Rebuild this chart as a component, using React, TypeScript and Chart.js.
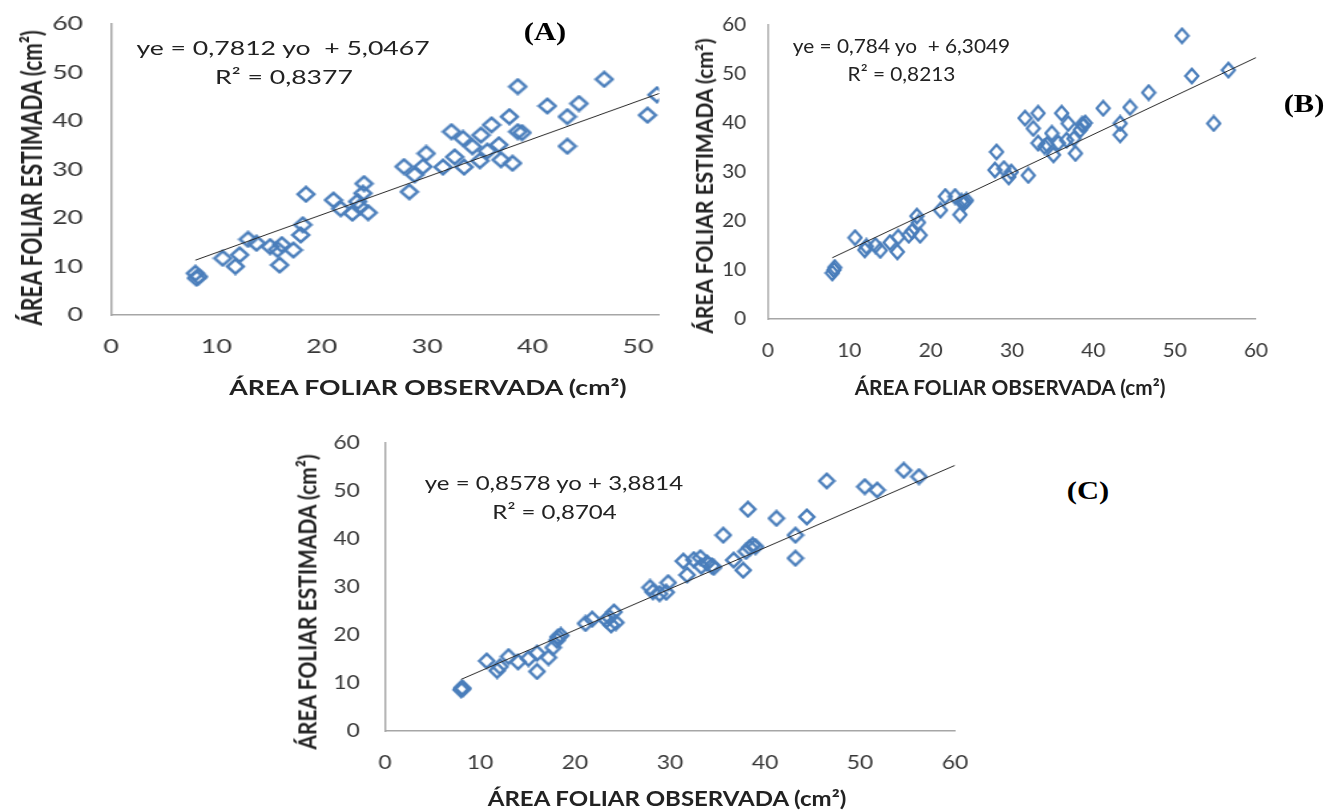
import React, { useEffect, useRef } from 'react';
import { Chart, registerables } from 'chart.js';

Chart.register(...registerables);

// ---------- DATA ----------
const obsA = [8.0, 8.1, 8.3, 10.6, 11.8, 12.2, 13.0, 13.8, 15.1, 15.8, 16.0, 16.2, 17.3, 18.0, 18.2, 18.5, 21.1, 21.8, 22.9, 23.4, 23.6, 23.9, 24.0, 24.4, 27.8, 28.3, 28.8, 29.6, 29.9, 31.5, 32.3, 32.6, 33.4, 33.5, 34.3, 35.0, 35.1, 35.7, 36.1, 36.8, 37.0, 37.8, 38.1, 38.6, 38.6, 39.0, 41.4, 43.3, 43.3, 44.4, 46.8, 50.9, 51.8];
const estA = [8.6, 7.6, 7.9, 11.7, 10.0, 12.4, 15.6, 14.8, 14.1, 13.5, 10.3, 14.5, 13.4, 16.5, 18.6, 24.9, 23.7, 21.9, 21.0, 23.4, 22.3, 25.1, 27.1, 21.1, 30.6, 25.4, 28.9, 30.6, 33.3, 30.5, 37.8, 32.6, 36.4, 30.5, 34.7, 31.8, 37.1, 33.8, 39.2, 35.1, 32.0, 40.9, 31.3, 47.1, 37.8, 37.6, 43.1, 40.9, 34.8, 43.6, 48.6, 41.2, 45.4];

const obsB = [7.9, 8.1, 8.2, 10.7, 11.9, 12.1, 13.2, 13.8, 15.0, 15.9, 16.0, 17.3, 17.7, 18.3, 18.5, 18.7, 21.2, 21.8, 23.0, 23.6, 23.8, 24.0, 24.2, 24.4, 27.9, 28.1, 29.0, 29.6, 29.9, 31.6, 32.0, 32.6, 33.2, 33.2, 34.0, 34.3, 34.9, 35.1, 35.7, 36.1, 36.7, 36.9, 37.6, 37.8, 38.4, 38.6, 38.8, 39.0, 41.2, 43.3, 43.3, 44.5, 46.8, 50.9, 52.1, 54.8, 56.6];
const estB = [9.4, 10.0, 10.5, 16.6, 14.1, 14.8, 15.0, 14.0, 15.6, 13.7, 16.7, 17.1, 17.9, 21.0, 19.7, 17.1, 22.2, 25.0, 25.0, 21.3, 24.0, 23.6, 23.9, 24.2, 30.4, 34.1, 30.7, 29.0, 30.0, 41.0, 29.3, 38.9, 42.0, 35.9, 35.2, 35.6, 37.9, 33.5, 35.9, 42.0, 36.5, 39.9, 36.8, 33.8, 38.6, 39.7, 39.5, 40.0, 43.0, 39.9, 37.6, 43.2, 46.2, 57.8, 49.6, 39.9, 50.8];

const obsC = [8.0, 8.1, 8.2, 10.7, 11.8, 12.1, 13.0, 14.0, 15.1, 16.0, 16.0, 17.2, 17.7, 18.1, 18.2, 18.5, 21.1, 21.8, 23.3, 23.6, 23.8, 24.1, 24.3, 27.9, 28.2, 28.9, 29.6, 29.8, 31.4, 31.8, 32.5, 33.2, 33.3, 33.9, 34.4, 34.6, 35.6, 36.7, 37.7, 38.0, 38.2, 38.4, 38.7, 39.0, 41.2, 43.2, 43.2, 44.4, 46.5, 50.5, 51.8, 54.6, 56.2];
const estC = [8.6, 9.0, 8.8, 14.6, 12.6, 13.4, 15.5, 14.4, 15.1, 12.4, 16.2, 15.3, 17.4, 18.9, 19.6, 19.9, 22.4, 23.3, 23.1, 23.7, 22.1, 24.8, 22.6, 29.9, 29.0, 28.6, 28.9, 30.9, 35.4, 32.5, 35.7, 36.1, 34.3, 35.0, 34.4, 34.1, 40.8, 35.6, 33.5, 37.4, 46.2, 38.2, 38.7, 38.4, 44.3, 40.8, 36.0, 44.6, 52.1, 50.9, 50.2, 54.3, 53.0];

const slopes = [0.7812, 0.784, 0.8578];
const intercepts = [5.0467, 6.3049, 3.8814];
const equations = ['ye = 0,7812 yo  + 5,0467', 'ye = 0,784 yo  + 6,3049', 'ye = 0,8578 yo + 3,8814'];
const r2Labels = ['R² = 0,8377', 'R² = 0,8213', 'R² = 0,8704'];
const panelLabels = ['(A)', '(B)', '(C)'];
const xMaxes = [52, 60, 60];
const tickStep = 10;
const xTitle = 'ÁREA FOLIAR OBSERVADA (cm²)';
const yTitle = 'ÁREA FOLIAR ESTIMADA (cm²)';

// ---------- STYLE / LAYOUT ----------
const BLUE = '#4a7ebb';
const AXIS = '#a6a6a6';
const TICK = '#383838';
const TEXT = '#222222';

type Panel = {
  ox: number; oy: number; sx: number; w: number; h: number;
  L: number; R: number; T: number; B: number; tickSize: number;
  eq: [number, number]; r2: [number, number]; xt: [number, number]; yt: [number, number];
  lab: [number, number];
};

const panels: Panel[] = [
  { ox: 0, oy: 0, sx: 1.33, w: 512, h: 400, L: 111, R: 659, T: 24, B: 315, tickSize: 20,
    eq: [283, 47], r2: [284, 76], xt: [428, 387], yt: [30, 178], lab: [545, 31] },
  { ox: 680, oy: 0, sx: 1.04, w: 621, h: 400, L: 768, R: 1256, T: 25, B: 319, tickSize: 20,
    eq: [901.5, 45], r2: [901.5, 73], xt: [1010, 387], yt: [704, 186], lab: [1304, 103] },
  { ox: 280, oy: 400, sx: 1.2, w: 583, h: 412, L: 385, R: 955, T: 443, B: 731, tickSize: 19,
    eq: [554, 482], r2: [554.5, 511], xt: [667, 798], yt: [306, 602], lab: [1088, 490] },
];

function makeDiamond(w: number, h: number, lw: number, color: string) {
  const c = document.createElement('canvas');
  c.width = w;
  c.height = h;
  const ctx = c.getContext('2d')!;
  const i = lw * 0.75;
  ctx.strokeStyle = color;
  ctx.lineWidth = lw;
  ctx.beginPath();
  ctx.moveTo(w / 2, i);
  ctx.lineTo(w - i, h / 2);
  ctx.lineTo(w / 2, h - i);
  ctx.lineTo(i, h / 2);
  ctx.closePath();
  ctx.stroke();
  return c;
}

function zeroPad(s: any) {
  s.paddingTop = 0;
  s.paddingBottom = 0;
  s.paddingLeft = 0;
  s.paddingRight = 0;
}

function ScatterPanel({ idx, obs, est }: { idx: number; obs: number[]; est: number[] }) {
  const ref = useRef<HTMLCanvasElement | null>(null);
  const p = panels[idx];
  const u = (X: number) => (X - p.ox) / p.sx;
  const v = (Y: number) => Y - p.oy;

  useEffect(() => {
    if (!ref.current) return;
    const l = u(p.L);
    const r = u(p.R);
    const t = v(p.T);
    const b = v(p.B);
    const xMax = xMaxes[idx];
    const pts = obs.map((x, i) => ({ x, y: est[i] }));
    const x0 = Math.min(...obs);
    const trend = [x0, 60].map((x) => ({ x, y: slopes[idx] * x + intercepts[idx] }));
    const diamond = makeDiamond(16, 18, 2.5, BLUE);
    const tickFont = { family: 'Lato', size: p.tickSize };
    const chart = new Chart(ref.current, {
      type: 'scatter',
      data: {
        datasets: [
          {
            type: 'line',
            data: trend,
            borderColor: '#2a2a2a',
            borderWidth: 1,
            pointRadius: 0,
            fill: false,
          } as any,
          {
            type: 'scatter',
            data: pts,
            pointStyle: diamond as any,
            pointRadius: 8,
            pointHoverRadius: 8,
            borderColor: BLUE,
            backgroundColor: 'transparent',
          } as any,
        ],
      },
      options: {
        responsive: false,
        animation: false,
        devicePixelRatio: 1,
        events: [],
        layout: { padding: { left: 0, top: t, right: p.w - r, bottom: 0 } },
        plugins: { legend: { display: false }, tooltip: { enabled: false } },
        scales: {
          x: {
            type: 'linear',
            position: 'bottom',
            min: 0,
            max: xMax,
            grid: { display: false, drawTicks: false },
            border: { display: true, color: AXIS, width: 1.5 },
            ticks: { stepSize: tickStep, includeBounds: false, padding: 20, color: TICK, font: tickFont, maxRotation: 0 },
            afterFit: (s: any) => { s.height = p.h - b; zeroPad(s); },
          },
          y: {
            type: 'linear',
            position: 'left',
            min: 0,
            max: 60,
            grid: { display: false, drawTicks: false },
            border: { display: true, color: AXIS, width: 1.5 },
            ticks: { stepSize: tickStep, includeBounds: false, padding: 21, color: TICK, font: tickFont },
            afterFit: (s: any) => { s.width = l; zeroPad(s); },
          },
        },
      } as any,
    });
    return () => chart.destroy();
  }, [idx]);

  const txt = (x: number, y: number, s: React.CSSProperties, content: string, rot = false) => (
    <div
      style={{
        position: 'absolute',
        left: u(x),
        top: v(y),
        transform: `translate(-50%, -50%)${rot ? ' rotate(-90deg)' : ''}`,
        whiteSpace: 'pre',
        lineHeight: 1,
        color: TEXT,
        fontFamily: 'Lato, sans-serif',
        ...s,
      }}
    >
      {content}
    </div>
  );

  return (
    <div
      style={{
        position: 'absolute',
        left: p.ox,
        top: p.oy,
        width: p.w,
        height: p.h,
        transform: `scaleX(${p.sx})`,
        transformOrigin: '0 0',
      }}
    >
      <canvas ref={ref} width={p.w} height={p.h} style={{ position: 'absolute', left: 0, top: 0, width: p.w, height: p.h }} />
      {txt(p.eq[0], p.eq[1], { fontSize: 20 }, equations[idx])}
      {txt(p.r2[0], p.r2[1], { fontSize: 20 }, r2Labels[idx])}
      {txt(p.xt[0], p.xt[1], { fontSize: 20, fontWeight: 700 }, xTitle)}
      {txt(p.yt[0], p.yt[1], { fontSize: 21, fontWeight: 700 }, yTitle, true)}
    </div>
  );
}

export default function App() {
  return (
    <div style={{ position: 'absolute', left: 0, top: 0, width: 1326, height: 812, overflow: 'hidden', background: '#fff' }}>
      <ScatterPanel idx={0} obs={obsA} est={estA} />
      <ScatterPanel idx={1} obs={obsB} est={estB} />
      <ScatterPanel idx={2} obs={obsC} est={estC} />
      {panels.map((p, i) => (
        <div
          key={i}
          style={{
            position: 'absolute',
            left: p.lab[0],
            top: p.lab[1],
            transform: 'translate(-50%, -50%) scaleX(1.22)',
            fontFamily: '"Liberation Serif", serif',
            fontWeight: 700,
            fontSize: 25,
            lineHeight: 1,
            color: '#000',
            whiteSpace: 'pre',
          }}
        >
          {panelLabels[i]}
        </div>
      ))}
    </div>
  );
}
